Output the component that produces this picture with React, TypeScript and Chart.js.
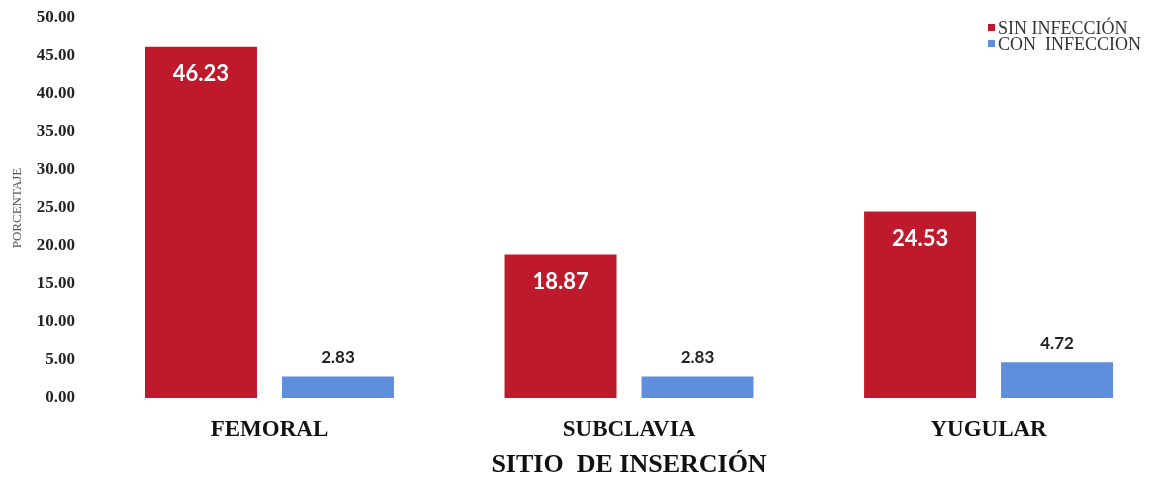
import { useEffect, useRef } from "react";
import { Chart, registerables } from "chart.js";

Chart.register(...registerables);

// Insertion sites and the percentage of catheters with / without infection
const categories = ["FEMORAL", "SUBCLAVIA", "YUGULAR"];
const sinInfeccion = [46.23, 18.87, 24.53];
const conInfeccion = [2.83, 2.83, 4.72];
const seriesNames = ["SIN INFECCIÓN", "CON  INFECCION"];
const seriesColors = ["#BE1A2C", "#5E8EDC"];
const yMin = 0;
const yMax = 50;
const yStep = 5;
const xTitle = "SITIO  DE INSERCIÓN";
const yTitle = "PORCENTAJE";

const SERIF = "'Liberation Serif', 'Times New Roman', serif";
const SANS = "Lato, 'Open Sans', sans-serif";

// Value labels: white inside the top of red bars, dark above blue bars
const barLabels = {
  id: "barLabels",
  afterDatasetsDraw(chart: Chart) {
    const ctx = chart.ctx;
    const series = [sinInfeccion, conInfeccion];
    ctx.save();
    ctx.textAlign = "center";
    ctx.textBaseline = "middle";
    series.forEach((values, di) => {
      const meta = chart.getDatasetMeta(di);
      meta.data.forEach((bar: any, i: number) => {
        const text = values[i].toFixed(2);
        if (di === 0) {
          ctx.font = `bold 22px ${SANS}`;
          ctx.fillStyle = "#ffffff";
          ctx.fillText(text, bar.x, bar.y + 27);
        } else {
          ctx.font = `bold 17px ${SANS}`;
          ctx.fillStyle = "#222222";
          ctx.fillText(text, bar.x, bar.y - 19);
        }
      });
    });
    ctx.restore();
  },
};

// Axis title under the middle category, plus the stacked legend top-right
const extras = {
  id: "extras",
  afterDraw(chart: Chart) {
    const ctx = chart.ctx;
    const xs: any = chart.scales.x;
    ctx.save();
    ctx.textAlign = "center";
    ctx.textBaseline = "middle";
    ctx.font = `bold 26px ${SERIF}`;
    ctx.fillStyle = "#111111";
    ctx.fillText(xTitle, xs.getPixelForValue(1), 465);

    ctx.textAlign = "left";
    ctx.font = `18px ${SERIF}`;
    seriesNames.forEach((name, i) => {
      const cy = 28 + i * 16;
      ctx.fillStyle = seriesColors[i];
      ctx.fillRect(988, cy - 4, 7, 7);
      ctx.fillStyle = "#333333";
      ctx.fillText(name, 998, cy + 1);
    });
    ctx.restore();
  },
};

export default function App() {
  const canvasRef = useRef<HTMLCanvasElement | null>(null);

  useEffect(() => {
    if (!canvasRef.current) return;
    const chart = new Chart(canvasRef.current, {
      type: "bar",
      data: {
        datasets: [sinInfeccion, conInfeccion].map((values, di) => ({
          label: seriesNames[di],
          data: values.map((v, i) => ({ x: i, y: v })),
          backgroundColor: seriesColors[di],
          borderWidth: 0,
          categoryPercentage: 0.762,
          barPercentage: 0.8175,
        })),
      },
      options: {
        animation: false,
        responsive: true,
        maintainAspectRatio: false,
        layout: { padding: { top: 18, right: 5, left: 0, bottom: 0 } },
        plugins: {
          legend: { display: false },
          tooltip: { enabled: false },
        },
        scales: {
          x: {
            type: "linear",
            offset: false,
            min: -0.527,
            max: 2.449,
            grid: { display: false, drawTicks: false, offset: false },
            border: { display: false },
            afterBuildTicks: (scale: any) => {
              scale.ticks = categories.map((_, i) => ({ value: i }));
            },
            afterFit: (scale: any) => {
              scale.height = 81;
            },
            ticks: {
              autoSkip: false,
              maxRotation: 0,
              padding: 18,
              color: "#111111",
              font: { family: SERIF, size: 23, weight: "bold" },
              callback: (value: any) => categories[Number(value)] ?? "",
            },
          },
          y: {
            min: yMin,
            max: yMax,
            grid: { display: false, drawTicks: false },
            border: { display: false },
            afterFit: (scale: any) => {
              scale.width = 80;
            },
            ticks: {
              stepSize: yStep,
              padding: 5,
              color: "#222222",
              font: { family: SERIF, size: 17, weight: "bold" },
              callback: (value: any) => Number(value).toFixed(2),
            },
            title: {
              display: true,
              text: yTitle,
              color: "#555555",
              font: { family: SERIF, size: 13 },
              padding: { top: 10, bottom: 0 },
            },
          },
        },
      },
      plugins: [barLabels, extras],
    });
    return () => chart.destroy();
  }, []);

  return (
    <div style={{ position: "fixed", left: 0, top: 0, width: 1155, height: 479, background: "#ffffff" }}>
      <canvas ref={canvasRef} />
    </div>
  );
}
